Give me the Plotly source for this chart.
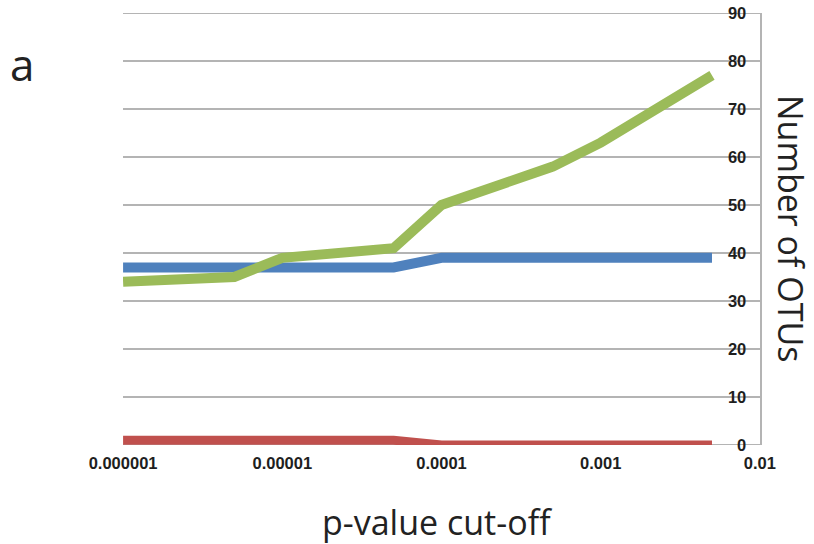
import plotly.graph_objects as go

# p-value cut-offs and OTU counts per series
p_cutoffs = [0.000001, 0.000005, 0.00001, 0.00005, 0.0001, 0.0005, 0.001, 0.005]
blue_otus = [37, 37, 37, 37, 39, 39, 39, 39]
green_otus = [34, 35, 39, 41, 50, 58, 63, 77]
red_otus = [1, 1, 1, 1, 0, 0, 0, 0]

x_tick_vals = [0.000001, 0.00001, 0.0001, 0.001, 0.01]
x_tick_text = ["0.000001", "0.00001", "0.0001", "0.001", "0.01"]
y_tick_vals = [0, 10, 20, 30, 40, 50, 60, 70, 80, 90]

GRID = "#b4b4b4"
tick_font = dict(family="Liberation Sans Narrow, Liberation Sans, Arial", size=16.5,
                 color="#1e1e1e", weight="bold")
title_font = dict(family="Open Sans, Lato, sans-serif", size=34, color="#222222")

# plot area in pixels
L, R, T, B = 123, 54, 13, 99
W, H = 814, 544
plot_w = W - L - R
plot_h = H - T - B


def px_to_paper(px, py):
    return (px - L) / plot_w, (H - B - py) / plot_h


fig = go.Figure()
for vals, color, width in [(red_otus, "#c0504d", 9),
                           (blue_otus, "#4f81bd", 10),
                           (green_otus, "#9bbb59", 10)]:
    fig.add_trace(go.Scatter(x=p_cutoffs, y=vals, mode="lines",
                             line=dict(color=color, width=width),
                             showlegend=False, cliponaxis=False))

# gridlines at the two ends of the value axis
for yv in (y_tick_vals[0], y_tick_vals[-1]):
    fig.add_shape(type="line", xref="paper", yref="y", x0=0, x1=1, y0=yv, y1=yv,
                  line=dict(color=GRID, width=2), layer="below")

ax, ay = px_to_paper(791, 228)
bx, by = px_to_paper(437, 522)
cx, cy = px_to_paper(22, 64)

fig.update_layout(
    width=W, height=H,
    margin=dict(l=L, r=R, t=T, b=B, autoexpand=False),
    plot_bgcolor="white", paper_bgcolor="white",
    xaxis=dict(type="log", range=[-6.0005, -1.9995], tickvals=x_tick_vals,
               ticktext=x_tick_text, tickfont=tick_font, showgrid=False,
               zeroline=False, showline=False, ticks="", ticklabelstandoff=6,
               automargin=False),
    yaxis=dict(side="right", range=[0, 90], tickvals=y_tick_vals,
               tickfont=tick_font, ticklabelposition="inside",
               ticklabeloverflow="allow", ticklabelstandoff=8,
               showgrid=True, gridcolor=GRID, gridwidth=2,
               showline=True, linecolor=GRID, linewidth=2,
               ticks="inside", ticklen=6, tickcolor=GRID, tickwidth=2,
               zeroline=False, automargin=False),
    annotations=[
        dict(text="Number of OTUs", x=ax, y=ay, xref="paper", yref="paper",
             xanchor="center", yanchor="middle",
             showarrow=False, textangle=90, font=title_font),
        dict(text="p-value cut-off", x=bx, y=by, xref="paper", yref="paper",
             xanchor="center", yanchor="middle",
             showarrow=False, font=title_font),
        dict(text="a", x=cx, y=cy, xref="paper", yref="paper",
             xanchor="center", yanchor="middle", showarrow=False,
             font=dict(family="Open Sans, Lato, sans-serif", size=44, color="#222222")),
    ],
)

fig.write_html("out.html")
